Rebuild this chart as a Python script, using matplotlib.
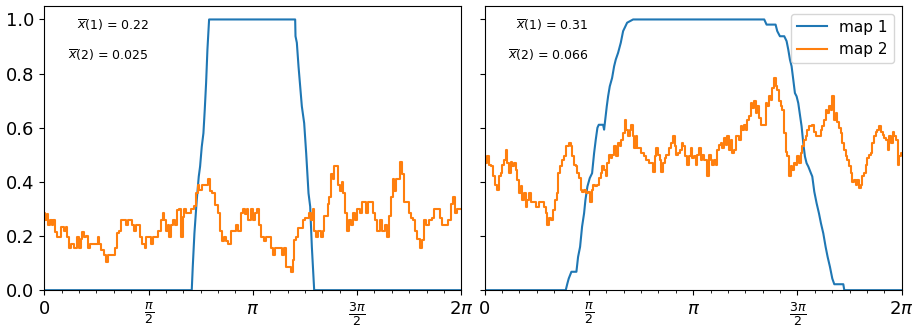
import numpy as np
import matplotlib.pyplot as plt

# sample positions on a 1250-step grid over [0, 2pi]
N_GRID = 1250

left_map1_idx = [0, 442, 445, 450, 457, 463, 467, 472, 477, 481, 485, 489, 494,
                 752, 753, 757, 762, 767, 772, 779, 785, 792, 797, 802, 809, 1250]
left_map1_val = [0, 0, 0.086, 0.21, 0.333, 0.42, 0.457, 0.53, 0.58, 0.667, 0.765, 0.889, 1.0,
                 1.0, 0.938, 0.914, 0.827, 0.753, 0.679, 0.617, 0.506, 0.358, 0.309, 0.16, 0.0, 0]

left_map2_idx = [0, 5, 10, 15, 20, 25, 30, 35, 40, 47, 55, 62, 67, 72, 77, 85, 95, 102, 107,
                 112, 117, 122, 129, 133, 139, 147, 157, 162, 167, 175, 182, 187, 192, 202,
                 210, 215, 220, 227, 235, 242, 247, 252, 259, 265, 270, 277, 285, 290, 297,
                 304, 307, 315, 322, 327, 337, 345, 352, 357, 362, 367, 372, 377, 382, 387,
                 395, 402, 407, 412, 417, 422, 429, 437, 445, 452, 457, 462, 467, 477, 487,
                 494, 499, 507, 517, 524, 529, 535, 542, 547, 557, 562, 572, 579, 585, 592,
                 599, 604, 609, 615, 622, 629, 635, 642, 647, 655, 662, 667, 677, 682, 689,
                 695, 702, 709, 715, 722, 729, 737, 743, 747, 752, 757, 764, 772, 777, 787,
                 797, 802, 807, 812, 817, 825, 832, 837, 842, 847, 852, 857, 862, 867, 872,
                 879, 884, 889, 894, 899, 905, 910, 917, 922, 929, 935, 942, 949, 955, 962,
                 967, 975, 982, 987, 995, 1002, 1009, 1017, 1025, 1029, 1035, 1042, 1047,
                 1052, 1059, 1065, 1070, 1075, 1079, 1089, 1095, 1102, 1107, 1115, 1122,
                 1129, 1135, 1142, 1149, 1157, 1165, 1172, 1182, 1189, 1197, 1207, 1215,
                 1222, 1229, 1235, 1240, 1250]
left_map2_val = [0.284, 0.26, 0.28, 0.24, 0.26, 0.24, 0.26, 0.216, 0.197, 0.197, 0.235, 0.22,
                 0.235, 0.197, 0.154, 0.17, 0.154, 0.197, 0.154, 0.19, 0.216, 0.197, 0.2,
                 0.154, 0.17, 0.17, 0.17, 0.197, 0.17, 0.148, 0.13, 0.105, 0.13, 0.13, 0.13,
                 0.154, 0.21, 0.22, 0.26, 0.26, 0.24, 0.26, 0.26, 0.24, 0.22, 0.24, 0.24,
                 0.197, 0.17, 0.154, 0.197, 0.197, 0.17, 0.197, 0.197, 0.22, 0.26, 0.284,
                 0.26, 0.22, 0.24, 0.197, 0.24, 0.26, 0.24, 0.296, 0.3, 0.197, 0.27, 0.3,
                 0.284, 0.284, 0.3, 0.31, 0.36, 0.39, 0.37, 0.39, 0.39, 0.41, 0.365, 0.36,
                 0.315, 0.284, 0.22, 0.18, 0.197, 0.18, 0.17, 0.22, 0.22, 0.24, 0.22, 0.284,
                 0.3, 0.28, 0.3, 0.26, 0.3, 0.26, 0.284, 0.3, 0.24, 0.197, 0.18, 0.197, 0.197,
                 0.154, 0.13, 0.154, 0.154, 0.154, 0.13, 0.154, 0.086, 0.086, 0.068, 0.11,
                 0.185, 0.197, 0.23, 0.23, 0.26, 0.265, 0.284, 0.26, 0.3, 0.22, 0.197, 0.22,
                 0.197, 0.22, 0.275, 0.275, 0.32, 0.345, 0.43, 0.41, 0.457, 0.457, 0.39,
                 0.365, 0.4, 0.36, 0.284, 0.22, 0.26, 0.24, 0.284, 0.26, 0.3, 0.284, 0.327,
                 0.327, 0.284, 0.327, 0.327, 0.284, 0.26, 0.22, 0.26, 0.22, 0.24, 0.197,
                 0.275, 0.345, 0.41, 0.365, 0.41, 0.41, 0.475, 0.43, 0.327, 0.327, 0.284,
                 0.265, 0.26, 0.22, 0.19, 0.154, 0.185, 0.26, 0.24, 0.26, 0.265, 0.3, 0.3,
                 0.265, 0.24, 0.24, 0.26, 0.32, 0.345, 0.284, 0.3, 0.3]

right_map1_idx = [0, 243, 248, 252, 260, 275, 280, 286, 292, 298, 302, 308, 315, 322, 328,
                  333, 338, 342, 355, 358, 362, 366, 370, 375, 382, 388, 393, 400, 408, 415,
                  422, 427, 445, 838, 845, 872, 877, 885, 898, 905, 910, 915, 920, 925, 930,
                  935, 940, 945, 950, 955, 960, 965, 970, 978, 982, 988, 995, 1002, 1008,
                  1015, 1022, 1028, 1035, 1042, 1048, 1075, 1078, 1250]
right_map1_val = [0, 0, 0.025, 0.043, 0.068, 0.068, 0.123, 0.16, 0.235, 0.284, 0.333, 0.383,
                  0.414, 0.432, 0.506, 0.556, 0.6, 0.611, 0.611, 0.593, 0.636, 0.679, 0.716,
                  0.753, 0.784, 0.827, 0.852, 0.877, 0.914, 0.957, 0.975, 0.988, 1.0, 1.0,
                  0.981, 0.981, 0.957, 0.938, 0.938, 0.92, 0.889, 0.852, 0.827, 0.778, 0.728,
                  0.716, 0.691, 0.648, 0.605, 0.543, 0.494, 0.469, 0.457, 0.432, 0.42, 0.364,
                  0.321, 0.284, 0.247, 0.21, 0.16, 0.123, 0.086, 0.043, 0.022, 0.022, 0, 0]

right_map2_idx = [0, 5, 10, 15, 22, 28, 35, 40, 45, 50, 55, 60, 65, 70, 75, 80, 85, 90, 95,
                  100, 105, 110, 115, 120, 125, 130, 135, 142, 150, 158, 165, 170, 175, 180,
                  186, 190, 195, 202, 208, 213, 218, 222, 228, 235, 242, 248, 255, 260, 265,
                  270, 275, 280, 285, 290, 295, 302, 308, 312, 318, 323, 328, 335, 340, 345,
                  350, 355, 360, 365, 370, 375, 380, 385, 392, 398, 402, 408, 412, 417, 422,
                  427, 432, 437, 442, 447, 450, 455, 460, 465, 470, 475, 482, 488, 495, 502,
                  508, 512, 517, 522, 527, 533, 538, 542, 548, 555, 562, 567, 572, 578, 582,
                  588, 593, 598, 602, 608, 615, 620, 625, 630, 635, 640, 645, 650, 655, 660,
                  665, 670, 675, 680, 685, 690, 695, 700, 705, 710, 715, 720, 725, 730, 735,
                  740, 745, 750, 755, 760, 765, 770, 775, 780, 785, 790, 795, 800, 805, 810,
                  815, 820, 825, 830, 835, 840, 845, 850, 855, 860, 865, 870, 875, 880, 885,
                  890, 895, 900, 905, 910, 915, 920, 925, 930, 935, 940, 945, 950, 955, 960,
                  965, 970, 975, 980, 985, 990, 995, 1000, 1005, 1010, 1015, 1020, 1025,
                  1030, 1035, 1040, 1045, 1050, 1055, 1060, 1065, 1070, 1075, 1080, 1085,
                  1090, 1095, 1100, 1105, 1110, 1115, 1120, 1125, 1130, 1135, 1140, 1145,
                  1150, 1155, 1160, 1165, 1170, 1175, 1180, 1185, 1190, 1195, 1200, 1205,
                  1210, 1215, 1220, 1225, 1230, 1235, 1240, 1245, 1250]
right_map2_val = [0.494, 0.469, 0.494, 0.463, 0.457, 0.42, 0.389, 0.37, 0.42, 0.432, 0.463,
                  0.481, 0.519, 0.469, 0.432, 0.475, 0.457, 0.469, 0.444, 0.407, 0.358, 0.383,
                  0.333, 0.358, 0.309, 0.333, 0.358, 0.327, 0.327, 0.309, 0.327, 0.327, 0.327,
                  0.309, 0.284, 0.241, 0.265, 0.259, 0.296, 0.333, 0.358, 0.432, 0.457, 0.481,
                  0.494, 0.531, 0.543, 0.531, 0.494, 0.463, 0.457, 0.432, 0.414, 0.37, 0.364,
                  0.37, 0.358, 0.364, 0.327, 0.37, 0.389, 0.383, 0.389, 0.414, 0.432, 0.457,
                  0.444, 0.42, 0.469, 0.5, 0.488, 0.5, 0.531, 0.494, 0.543, 0.531, 0.556, 0.58,
                  0.63, 0.593, 0.568, 0.593, 0.611, 0.568, 0.525, 0.568, 0.525, 0.525, 0.506,
                  0.506, 0.494, 0.481, 0.469, 0.469, 0.438, 0.494, 0.525, 0.5, 0.481, 0.438,
                  0.469, 0.488, 0.5, 0.525, 0.543, 0.568, 0.531, 0.5, 0.506, 0.519, 0.543,
                  0.531, 0.494, 0.463, 0.494, 0.525, 0.488, 0.494, 0.463, 0.5, 0.525, 0.481,
                  0.5, 0.481, 0.481, 0.42, 0.5, 0.481, 0.463, 0.481, 0.463, 0.519, 0.537,
                  0.543, 0.525, 0.562, 0.537, 0.568, 0.519, 0.556, 0.506, 0.519, 0.568, 0.568,
                  0.556, 0.605, 0.593, 0.611, 0.593, 0.63, 0.642, 0.691, 0.673, 0.698, 0.654,
                  0.679, 0.636, 0.611, 0.611, 0.611, 0.691, 0.679, 0.716, 0.704, 0.747, 0.784,
                  0.753, 0.741, 0.698, 0.679, 0.667, 0.58, 0.512, 0.494, 0.42, 0.457, 0.444,
                  0.469, 0.463, 0.494, 0.469, 0.506, 0.531, 0.556, 0.568, 0.593, 0.605, 0.605,
                  0.611, 0.586, 0.568, 0.568, 0.568, 0.593, 0.605, 0.63, 0.667, 0.654, 0.679,
                  0.667, 0.716, 0.63, 0.654, 0.623, 0.599, 0.58, 0.543, 0.519, 0.494, 0.481,
                  0.457, 0.432, 0.401, 0.407, 0.389, 0.407, 0.377, 0.389, 0.42, 0.432, 0.463,
                  0.488, 0.5, 0.506, 0.543, 0.568, 0.586, 0.593, 0.605, 0.586, 0.574, 0.562,
                  0.556, 0.519, 0.568, 0.543, 0.586, 0.568, 0.556, 0.463, 0.494, 0.506]

mean_labels = [("0.22", "0.025"), ("0.31", "0.066")]


def to_theta(idx):
    return np.array(idx) / N_GRID * 2 * np.pi


fig, axes = plt.subplots(1, 2, sharey=True, figsize=(9.17, 3.29), dpi=100)
fig.subplots_adjust(left=0.0483, right=0.9833, top=0.982, bottom=0.118, wspace=0.056)

panels = [(left_map1_idx, left_map1_val, left_map2_idx, left_map2_val),
          (right_map1_idx, right_map1_val, right_map2_idx, right_map2_val)]

for ax, (i1, v1, i2, v2), (m1, m2) in zip(axes, panels, mean_labels):
    ax.plot(to_theta(i1), v1, color='tab:blue', lw=1.5, label='map 1')
    ax.plot(to_theta(i2), v2, color='tab:orange', lw=1.5, label='map 2',
            drawstyle='steps-mid')
    ax.set_xlim(0, 2 * np.pi)
    ax.set_ylim(0, 1.05)
    ax.set_xticks([0, np.pi / 2, np.pi, 3 * np.pi / 2, 2 * np.pi])
    ax.set_xticklabels(['0', r'$\frac{\pi}{2}$', r'$\pi$', r'$\frac{3\pi}{2}$', r'$2\pi$'])
    ax.set_xticks(np.arange(0, 2 * np.pi + 1e-9, np.pi / 12), minor=True)
    ax.set_yticks([0, 0.2, 0.4, 0.6, 0.8, 1.0])
    ax.tick_params(labelsize=13)
    ax.text(0.25, 0.93, r'$\overline{x}$(1) = ' + m1, transform=ax.transAxes,
            ha='right', va='center', fontsize=9)
    ax.text(0.25, 0.827, r'$\overline{x}$(2) = ' + m2, transform=ax.transAxes,
            ha='right', va='center', fontsize=9)

axes[1].legend(loc='upper right', fontsize=11)

fig.savefig('out.png', dpi=100)
